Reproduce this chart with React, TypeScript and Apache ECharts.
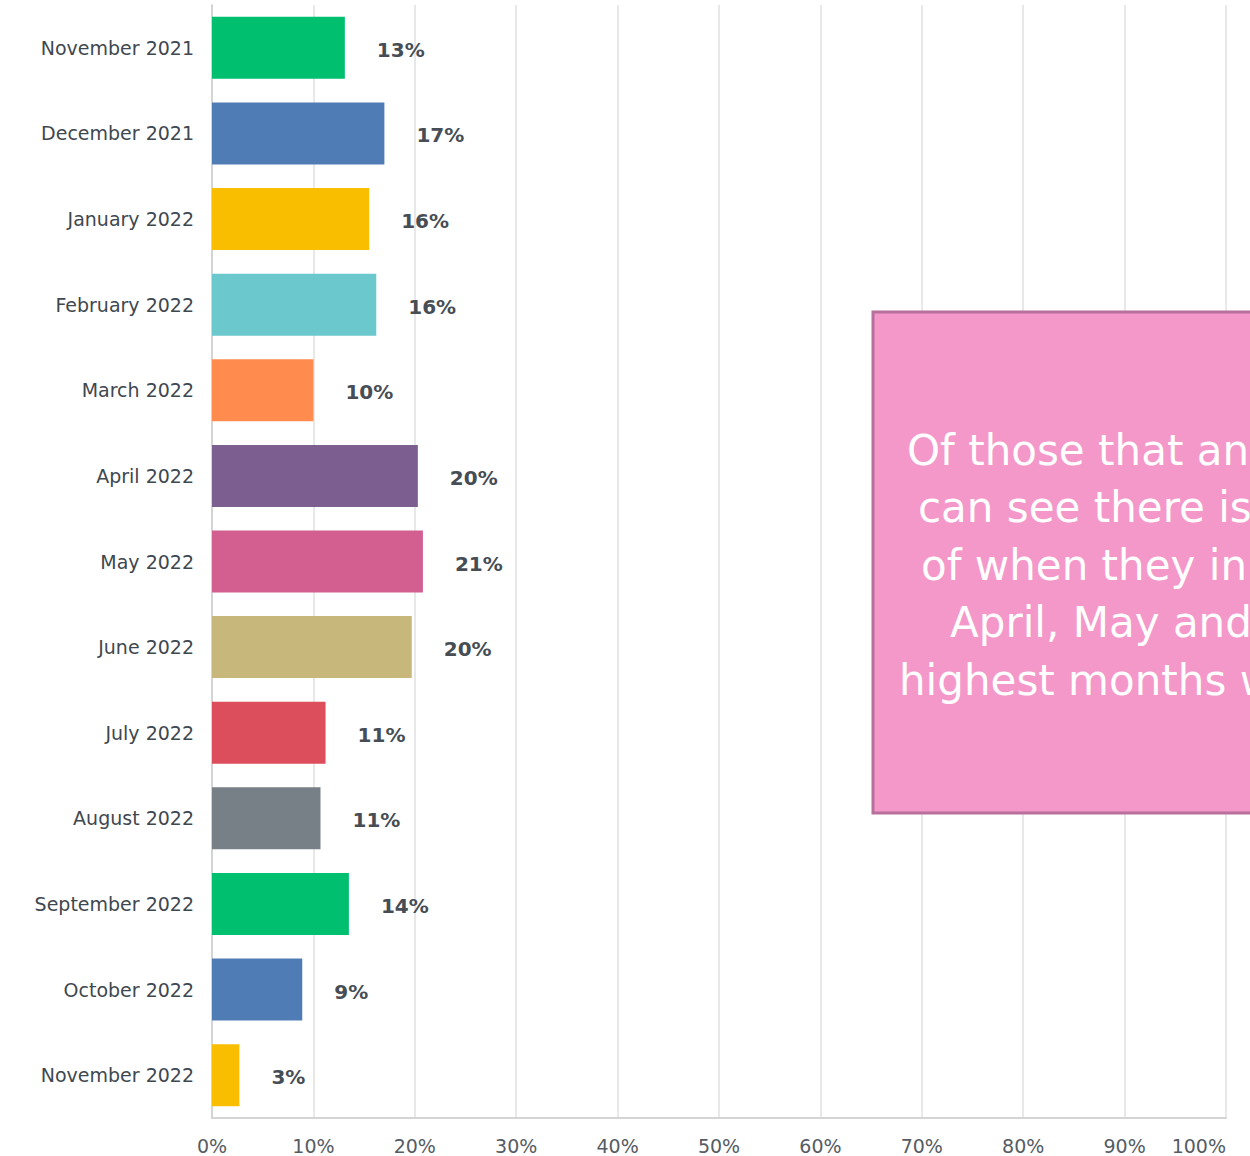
import React, { useEffect, useRef } from "react";
import * as echarts from "echarts";

const categories = [
  "November 2021",
  "December 2021",
  "January 2022",
  "February 2022",
  "March 2022",
  "April 2022",
  "May 2022",
  "June 2022",
  "July 2022",
  "August 2022",
  "September 2022",
  "October 2022",
  "November 2022",
];
const values = [13.1, 17.0, 15.5, 16.2, 10.0, 20.3, 20.8, 19.7, 11.2, 10.7, 13.5, 8.9, 2.7];
const barColors = [
  "#00bf6f", "#507cb6", "#f9be00", "#6bc8cd", "#ff8b4f", "#7d5e90",
  "#d25f90", "#c8b77a", "#dc4e5c", "#768086", "#00bf6f", "#507cb6", "#f9be00",
];
const xTicks = [0, 10, 20, 30, 40, 50, 60, 70, 80, 90, 100];
const noteLines = [
  "Of those that an",
  "can see there is",
  "of when they in",
  "April, May and",
  "highest months w",
];
const noteX = [907, 918, 921, 950, 899];

export default function App() {
  const ref = useRef<HTMLDivElement>(null);
  useEffect(() => {
    document.body.style.margin = "0";
    const chart = echarts.init(ref.current!, undefined, { renderer: "svg" });
    const font = "'DejaVu Sans', sans-serif";
    chart.setOption({
      animation: false,
      backgroundColor: "#ffffff",
      grid: {
        left: 212,
        right: 24,
        top: 5,
        bottom: 38,
        containLabel: false,
        outerBoundsMode: "none",
      },
      xAxis: {
        type: "value",
        min: xTicks[0],
        max: xTicks[xTicks.length - 1],
        interval: 10,
        axisLine: { show: true, lineStyle: { color: "#d4d4d4", width: 2 } },
        axisTick: { show: false },
        splitLine: { show: true, lineStyle: { color: "#e8e8e8", width: 2 } },
        axisLabel: {
          formatter: "{value}%",
          color: "#555c63",
          fontFamily: font,
          fontSize: 19,
          margin: 18,
          alignMaxLabel: "right",
        },
      },
      yAxis: {
        type: "category",
        data: categories,
        inverse: true,
        axisLine: { show: true, lineStyle: { color: "#d4d4d4", width: 2 } },
        axisTick: { show: false },
        axisLabel: {
          color: "#3f474f",
          fontFamily: font,
          fontSize: 19,
          margin: 18,
        },
      },
      series: [
        {
          type: "bar",
          barWidth: 62,
          data: values.map((v, i) => ({ value: v, itemStyle: { color: barColors[i] } })),
          label: {
            show: true,
            position: "right",
            distance: 32,
            offset: [0, 2],
            formatter: (p: any) => Math.round(p.value) + "%",
            color: "#464d55",
            fontFamily: font,
            fontWeight: "bold",
            fontSize: 20,
          },
        },
      ],
      graphic: [
        {
          type: "rect",
          shape: { x: 873, y: 312, width: 420, height: 501 },
          style: { fill: "#f497c9", stroke: "#b86f9b", lineWidth: 3 },
          z: 10,
        },
        ...noteLines.map((t, i) => ({
          type: "text",
          x: noteX[i],
          y: 450 + i * 57.5,
          style: {
            text: t,
            fill: "#ffffff",
            font: `42px ${font}`,
            textVerticalAlign: "middle",
            verticalAlign: "middle",
          },
          z: 11,
        })),
      ],
    });
    return () => chart.dispose();
  }, []);
  return <div ref={ref} style={{ width: 1250, height: 1156 }} />;
}
